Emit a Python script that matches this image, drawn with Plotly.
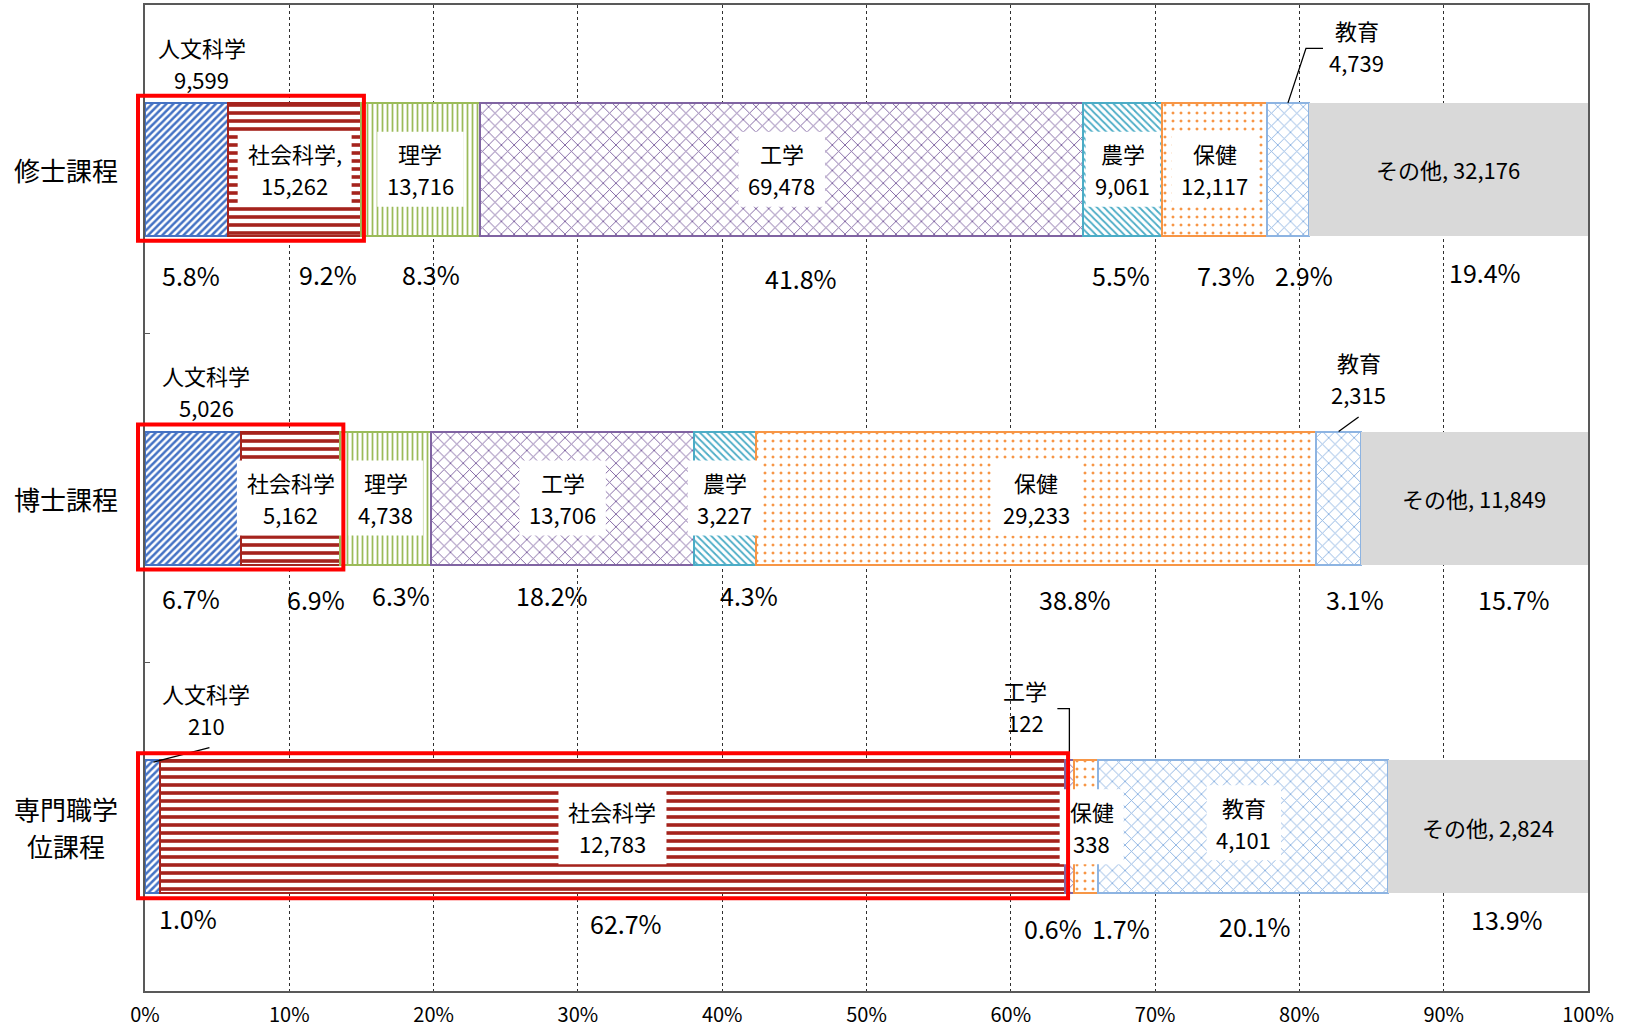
import plotly.graph_objects as go

# ---------------- data ----------------
categories = ["修士課程", "博士課程", "専門職学位課程"]
category_labels = ["修士課程", "博士課程", "専門職学<br>位課程"]
fields = ["人文科学", "社会科学", "理学", "工学", "農学", "保健", "教育", "その他"]

master = [9599, 15262, 13716, 69478, 9061, 12117, 4739, 32176]
doctor = [5026, 5162, 4738, 13706, 3227, 29233, 2315, 11849]
professional = [210, 12783, 0, 122, 0, 338, 4101, 2824]

x_ticks = [0, 10, 20, 30, 40, 50, 60, 70, 80, 90, 100]
x_tick_labels = [f"{t}%" for t in x_ticks]

series = [master, doctor, professional]

# ---------------- layout constants ----------------
W, H = 1627, 1032
ML, MR, MT, MB = 145, 39, 5, 41
PLOT_W = W - ML - MR
PLOT_H = H - MT - MB
PX_PER_PCT = PLOT_W / 100.0
NCAT = len(categories)
CAT_PX = PLOT_H / NCAT
BAR_PX = 133.0
BAR_HALF = BAR_PX / 2
FONT = "Noto Sans CJK JP"
LABEL_SIZE = 22
LABEL_LINE = 32
PCT_SIZE = 25
CAT_SIZE = 26
CAT_LINE = 37
BOX_H = 75
BOX_PAD = 10

styles = {
    "人文科学": dict(color="#4472C4", shape="/", size=5, solidity=0.5),
    "社会科学": dict(color="#A5231D", shape="-", size=8, solidity=0.45),
    "理学": dict(color="#9BBB59", shape="|", size=5, solidity=0.35),
    "工学": dict(color="#8064A2", shape="x", size=9, solidity=0.2),
    "農学": dict(color="#4BACC6", shape="\\", size=5, solidity=0.35),
    "保健": dict(color="#F79646", shape=".", size=8, solidity=0.11),
    "教育": dict(color="#8DB4E2", shape="x", size=9, solidity=0.2),
    "その他": dict(color="#D9D9D9", shape="", size=8, solidity=0.3),
}

# label placement styles (pixel offsets)
outside = {  # (cat index, field): (xshift, yshift)
    (0, "人文科学"): (15, 106),
    (1, "人文科学"): (13, 107),
    (2, "人文科学"): (54, 118),
    (0, "教育"): (69, 123),
    (1, "教育"): (20, 120),
    (2, "工学"): (-44, 121),
}
inside_shift = {
    (2, "保健"): (6, 0),
    (2, "教育"): (1, 4),
}
label_sep = {(0, "社会科学"): ",<br>"}
leaders = {  # pixel paths relative to segment centre / bar centre (y up)
    (0, "教育"): [(0, BAR_HALF), (18, 121), (35, 121)],
    (1, "教育"): [(0, BAR_HALF), (20, 81)],
    (2, "人文科学"): [(1, BAR_HALF - 2), (57, 79)],
    (2, "工学"): [(-12, 118), (0, 118), (0, BAR_HALF)],
}
pct_shift = [
    [(4, -106), (33, -105), (11, -105), (19, -109), (-2, -106), (11, -106), (16, -106), (37, -103)],
    [(-2, -100), (25, -101), (15, -97), (-11, -97), (24, -97), (39, -101), (16, -101), (40, -101)],
    [(36, -91), (14, -96), None, (-16, -101), None, (35, -101), (12, -99), (19, -92)],
]

totals = [sum(s) for s in series]
pcts = [[v / t * 100 for v in s] for s, t in zip(series, totals)]


def cat_paper_y(i):
    # y axis range is reversed: [NCAT-0.5, -0.5]
    return 1 - (i + 0.5) / NCAT


def text_width(s, fs):
    w = 0.0
    for ch in s:
        if ch.isdigit():
            w += 0.55 * fs
        elif ch in ",. ":
            w += 0.27 * fs
        else:
            w += 1.0 * fs
    return w


fig = go.Figure()
for j, f in enumerate(fields):
    st = styles[f]
    vals = [s[j] for s in series]
    xs = [p[j] for p in pcts]
    if st["shape"]:
        marker = dict(
            color=st["color"],
            pattern=dict(shape=st["shape"], fgcolor=st["color"], bgcolor="white",
                         size=st["size"], solidity=st["solidity"], fillmode="replace"),
            line=dict(color=st["color"], width=[2 if v > 0 else 0 for v in vals]),
        )
    else:
        marker = dict(color=st["color"], line=dict(width=0))
    fig.add_trace(go.Bar(y=categories, x=xs, orientation="h", name=f, marker=marker,
                         showlegend=False, hoverinfo="skip"))

annotations = []
box_shapes = []
line_shapes = []
for i, cat in enumerate(categories):
    cum = 0.0
    for j, f in enumerate(fields):
        v = series[i][j]
        p = pcts[i][j]
        center = cum + p / 2
        cum += p
        if v == 0:
            continue
        key = (i, f)
        if f == "その他":
            lines = [f"{f}, {v:,}"]
        else:
            lines = f"{f}{label_sep.get(key, '<br>')}{v:,}".split("<br>")
        if key in outside:
            xs_, ys_ = outside[key]
        else:
            xs_, ys_ = inside_shift.get(key, (0, 0))
            if f != "その他":
                bw = max(text_width(t, LABEL_SIZE) for t in lines) + 2 * BOX_PAD
                box_shapes.append(dict(type="rect", xref="paper", yref="paper",
                                       xsizemode="pixel", ysizemode="pixel",
                                       xanchor=center / 100.0, yanchor=cat_paper_y(i),
                                       x0=xs_ - bw / 2, x1=xs_ + bw / 2,
                                       y0=ys_ - BOX_H / 2, y1=ys_ + BOX_H / 2,
                                       fillcolor="white", line=dict(width=0), layer="above"))
        n = len(lines)
        for k, t in enumerate(lines):
            annotations.append(dict(x=center, y=i, xref="x", yref="y", text=t, showarrow=False,
                                    xshift=xs_, yshift=ys_ + (n - 1) / 2 * LABEL_LINE - k * LABEL_LINE,
                                    font=dict(size=LABEL_SIZE, color="black", family=FONT)))
        if key in leaders:
            pts = leaders[key]
            path = "M " + " L ".join(f"{a},{b}" for a, b in pts)
            line_shapes.append(dict(type="path", xref="paper", yref="paper", xsizemode="pixel",
                                    ysizemode="pixel", xanchor=center / 100.0,
                                    yanchor=cat_paper_y(i), path=path,
                                    line=dict(color="black", width=1.3)))
        sh = pct_shift[i][j]
        if sh is not None:
            annotations.append(dict(x=center, y=i, xref="x", yref="y", text=f"{p:.1f}%",
                                    showarrow=False, xshift=sh[0], yshift=sh[1],
                                    font=dict(size=PCT_SIZE, color="black", family=FONT)))
    # red highlight around 人文科学 + 社会科学
    end_soc = pcts[i][0] + pcts[i][1]
    line_shapes.append(dict(type="rect", xref="paper", yref="paper", ysizemode="pixel",
                            yanchor=cat_paper_y(i),
                            x0=(-7 / PX_PER_PCT) / 100.0, x1=(end_soc + 3 / PX_PER_PCT) / 100.0,
                            y0=BAR_HALF + 7, y1=-(BAR_HALF + 5),
                            line=dict(color="#FF0000", width=4), fillcolor="rgba(0,0,0,0)",
                            layer="above"))

for i, lab in enumerate(category_labels):
    parts = lab.split("<br>")
    n = len(parts)
    for k, t in enumerate(parts):
        annotations.append(dict(x=(66 - ML) / PLOT_W, y=i, xref="paper", yref="y", text=t,
                                showarrow=False, xanchor="center", align="center",
                                yshift=(n - 1) / 2 * CAT_LINE - k * CAT_LINE,
                                font=dict(size=CAT_SIZE, color="black", family=FONT)))

fig.update_layout(
    width=W, height=H,
    margin=dict(l=ML, r=MR, t=MT, b=MB, pad=0),
    paper_bgcolor="white", plot_bgcolor="white",
    barmode="stack", bargap=1 - BAR_PX / CAT_PX,
    font=dict(family=FONT, color="black"),
    annotations=annotations, shapes=box_shapes + line_shapes,
    xaxis=dict(range=[0, 100], tickvals=x_ticks, ticktext=x_tick_labels, automargin=False,
               showgrid=True, gridcolor="#303030", gridwidth=1, griddash="dot",
               zeroline=False, showline=True, linecolor="#595959", linewidth=2, mirror=True,
               ticks="", tickfont=dict(size=20, family=FONT, color="black"), ticklabelstandoff=5),
    yaxis=dict(type="category", categoryorder="array", categoryarray=categories, automargin=False,
               range=[NCAT - 0.5, -0.5], showticklabels=False, showgrid=False,
               zeroline=False, showline=True, linecolor="#595959", linewidth=2, mirror=True,
               ticks="inside", tickson="boundaries", ticklen=5, tickcolor="#595959"),
)

fig.write_html("out.html", config={"displayModeBar": False},
               post_script="document.body.style.margin='0px';")
